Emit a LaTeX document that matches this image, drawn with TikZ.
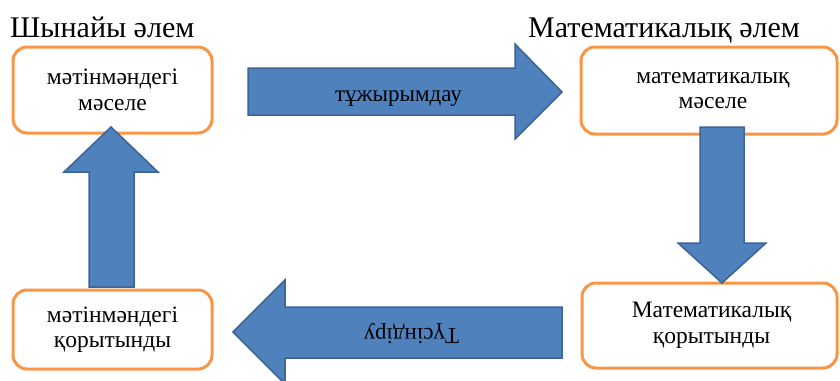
\documentclass[tikz,border=0pt]{standalone}
\usepackage{graphicx}
\usepackage{fontspec}
\setmainfont{Liberation Serif}
\definecolor{boxorange}{HTML}{F79646}
\definecolor{arrowfill}{HTML}{4F81BD}
\definecolor{arrowline}{HTML}{3A6396}
\begin{document}
\begin{tikzpicture}[x=1pt,y=-1pt,
  box/.style={draw=boxorange,line width=3pt,rounded corners=14pt,fill=white,
    align=center,inner sep=0pt,font=\fontsize{23.5}{25.5}\selectfont},
  blockarrow/.style={fill=arrowfill,draw=arrowline,line width=1.5pt,line join=miter},
  title/.style={anchor=base west,inner sep=0pt,font=\fontsize{30}{32}\selectfont},
  arrowlabel/.style={inner sep=0pt,font=\fontsize{23}{25}\selectfont}]
\useasboundingbox (0,0) rectangle (840,380);
\fill[white] (0,0) rectangle (840,380);
% titles
\node[title] (t1) at (10,37) {Шынайы әлем};
\node[title] (t2) at (528,37) {Математикалық әлем};
% boxes
\node[box,minimum width=199pt,minimum height=86pt] (b1) at (112.5,90) {мәтінмәндегі\\мәселе};
\node[box,minimum width=256pt,minimum height=87pt] (b2) at (709,90.5) {\hspace*{8pt}математикалық\\\hspace*{8pt}мәселе};
\node[box,minimum width=255pt,minimum height=85pt] (b3) at (709.5,325.5) {\hspace*{4pt}Математикалық\\\hspace*{4pt}қорытынды};
\node[box,minimum width=199pt,minimum height=79pt] (b4) at (112.5,329.5) {мәтінмәндегі\\қорытынды};
% block arrows
\draw[blockarrow] (248,68) -- (515,68) -- (515,44) -- (562,92) -- (515,139) -- (515,115) -- (248,115) -- cycle;
\draw[blockarrow] (562,307) -- (285,307) -- (285,280) -- (233,332) -- (285,384) -- (285,358) -- (562,358) -- cycle;
\draw[blockarrow] (89,287) -- (89,172) -- (64,172) -- (111,127) -- (158,172) -- (134,172) -- (134,287) -- cycle;
\draw[blockarrow] (700,127) -- (700,243) -- (678,243) -- (722,283) -- (766,243) -- (744,243) -- (744,127) -- cycle;
% arrow labels
\node[arrowlabel,anchor=base] (l1) at (398.5,101) {тұжырымдау};
\node[arrowlabel] (l2) at (411.5,334) {\rotatebox{180}{Түсіндіру}};
\end{tikzpicture}
\end{document}
